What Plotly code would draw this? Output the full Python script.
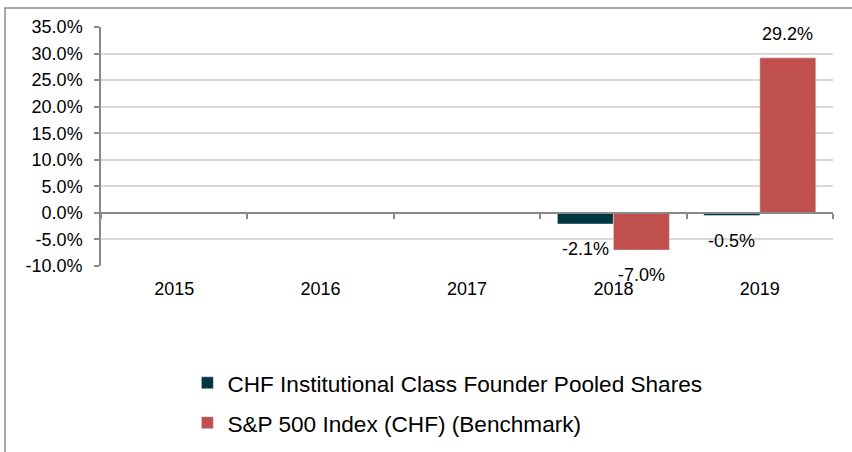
import plotly.graph_objects as go

years = ["2015", "2016", "2017", "2018", "2019"]
fund_name = "CHF Institutional Class Founder Pooled Shares"
bench_name = "S&P 500 Index (CHF) (Benchmark)"
fund_values = [None, None, None, -2.1, -0.5]
bench_values = [None, None, None, -7.0, 29.2]
y_ticks = [-10, -5, 0, 5, 10, 15, 20, 25, 30, 35]
y_tick_labels = ["-10.0%", "-5.0%", "0.0%", "5.0%", "10.0%", "15.0%",
                 "20.0%", "25.0%", "30.0%", "35.0%"]

FUND_COLOR = "#00363F"
BENCH_COLOR = "#C0504D"
FONT = "Liberation Sans, Arial, sans-serif"

fig = go.Figure()
fig.add_trace(go.Bar(x=years, y=fund_values, name=fund_name, marker_color=FUND_COLOR,
                     legend="legend", hoverinfo="skip"))
fig.add_trace(go.Bar(x=years, y=bench_values, name=bench_name, marker_color=BENCH_COLOR,
                     legend="legend2", hoverinfo="skip"))
# helper trace so the zero-crossing axis (ticks at category boundaries) is drawn
fig.add_trace(go.Scatter(x=years, y=[None] * len(years), xaxis="x2", yaxis="y",
                         showlegend=False, hoverinfo="skip", mode="lines"))

annotations = []
for vals, xs in ((fund_values, -28), (bench_values, 28)):
    for i, v in enumerate(vals):
        if v is None:
            continue
        annotations.append(dict(x=i, y=v, xref="x", yref="y", text=f"{v:.1f}%",
                                showarrow=False, xshift=xs, yshift=(24 if v > 0 else -25),
                                font=dict(size=18, color="#000000", family=FONT)))

fig.update_layout(
    width=852, height=452,
    margin=dict(l=101, r=19, t=27, b=186, autoexpand=False),
    paper_bgcolor="white", plot_bgcolor="white",
    font=dict(family=FONT, size=18, color="#000000"),
    barmode="group", bargap=0.235, bargroupgap=0,
    xaxis=dict(type="category", categoryorder="array", categoryarray=years,
               range=[-0.5, 4.5], automargin=False,
               showgrid=False, showline=False, ticks="", tickfont=dict(size=18),
               ticklabelstandoff=10, fixedrange=True),
    xaxis2=dict(type="category", categoryorder="array", categoryarray=years,
                range=[-0.5, 4.5], automargin=False,
                overlaying="x", anchor="free", position=10 / 45, side="bottom",
                showline=True, linecolor="#898989", linewidth=1.5,
                ticks="outside", ticklen=5, tickcolor="#898989", tickwidth=1.5,
                tickson="boundaries", showticklabels=False, showgrid=False),
    yaxis=dict(range=[-10, 35], tickvals=y_ticks, ticktext=y_tick_labels,
               automargin=False, ticklabelstandoff=8,
               showgrid=True, gridcolor="#D9D9D9", gridwidth=1.5, zeroline=False,
               showline=True, linecolor="#898989", linewidth=1.5,
               ticks="outside", ticklen=5, tickcolor="#898989", tickwidth=1.5,
               tickfont=dict(size=18)),
    legend=dict(x=0.118, y=-0.49, xanchor="left", yanchor="middle",
                font=dict(size=22.6), bgcolor="rgba(0,0,0,0)"),
    legend2=dict(x=0.118, y=-0.657, xanchor="left", yanchor="middle",
                 font=dict(size=22.6), bgcolor="rgba(0,0,0,0)"),
    annotations=annotations,
    shapes=[dict(type="rect", xref="paper", yref="paper",
                 x0=-0.1311, x1=1.05, y0=-0.85, y1=1.0795,
                 line=dict(color="#8C8C8C", width=1.5), fillcolor="rgba(0,0,0,0)",
                 layer="below")],
    showlegend=True,
)

fig.write_html("out.html", config={"displayModeBar": False},
               post_script="document.body.style.margin='0';")
